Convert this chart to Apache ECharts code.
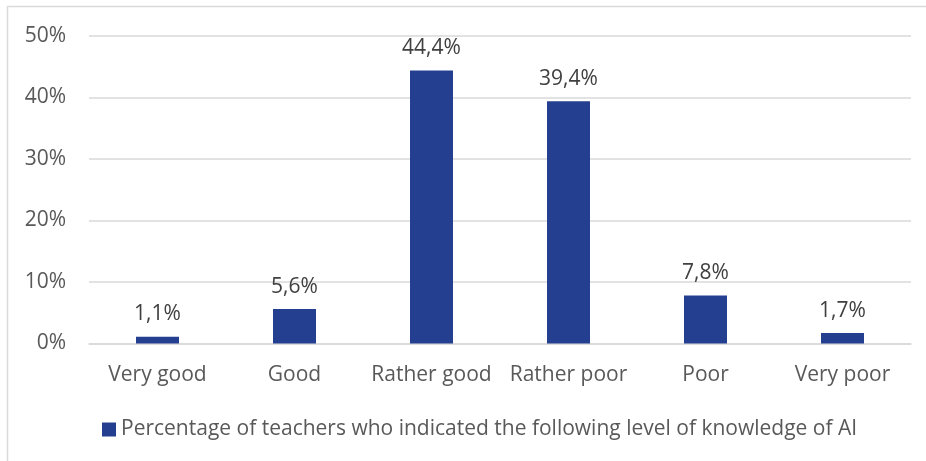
<!DOCTYPE html>
<html>
<head>
<meta charset="utf-8">
<script src="https://cdn.jsdelivr.net/npm/echarts@6/dist/echarts.min.js"></script>
<style>
  html, body { margin: 0; padding: 0; background: #fff; }
  #chart { width: 926px; height: 461px; }
</style>
</head>
<body>
<div id="chart"></div>
<script>
// Self-assessed AI knowledge levels among teachers
const categories = ['Very good', 'Good', 'Rather good', 'Rather poor', 'Poor', 'Very poor'];
const shares = [1.1, 5.6, 44.4, 39.4, 7.8, 1.7];
const yTicks = [0, 10, 20, 30, 40, 50];
const seriesName = 'Percentage of teachers who indicated the following level of knowledge of AI';

const FONT = '"Open Sans", "Noto Sans", sans-serif';
const fmt = v => v.toFixed(1).replace('.', ',') + '%';

const chart = echarts.init(document.getElementById('chart'));
chart.setOption({
  animation: false,
  graphic: [{
    type: 'rect',
    shape: { x: 7.5, y: 6.5, width: 940, height: 480 },
    style: { fill: 'none', stroke: '#d9d9d9', lineWidth: 1.5 },
    silent: true
  }],
  grid: { left: 89, right: 15, top: 36, bottom: 117.5 },
  legend: {
    bottom: 16,
    left: 97,
    itemWidth: 14,
    itemHeight: 14,
    itemGap: 6,
    icon: 'rect',
    textStyle: { fontFamily: FONT, fontSize: 21, color: '#595959' },
    data: [seriesName]
  },
  xAxis: {
    type: 'category',
    data: categories,
    axisLine: { lineStyle: { color: '#d9d9d9', width: 1.5 } },
    axisTick: { show: false },
    axisLabel: { interval: 0, fontFamily: FONT, fontSize: 21, color: '#595959', margin: 21 }
  },
  yAxis: {
    type: 'value',
    min: yTicks[0],
    max: yTicks[yTicks.length - 1],
    interval: 10,
    axisLine: { show: false },
    axisTick: { show: false },
    splitLine: { lineStyle: { color: '#d9d9d9', width: 1.5 } },
    axisLabel: {
      fontFamily: FONT, fontSize: 21, color: '#595959', margin: 23,
      formatter: v => v + '%'
    }
  },
  series: [{
    name: seriesName,
    type: 'bar',
    data: shares,
    barWidth: 43,
    itemStyle: { color: '#243f8f' },
    label: {
      show: true,
      position: 'top',
      distance: 12,
      fontFamily: FONT,
      fontSize: 21,
      color: '#404040',
      formatter: p => fmt(p.value)
    }
  }]
});
</script>
</body>
</html>
